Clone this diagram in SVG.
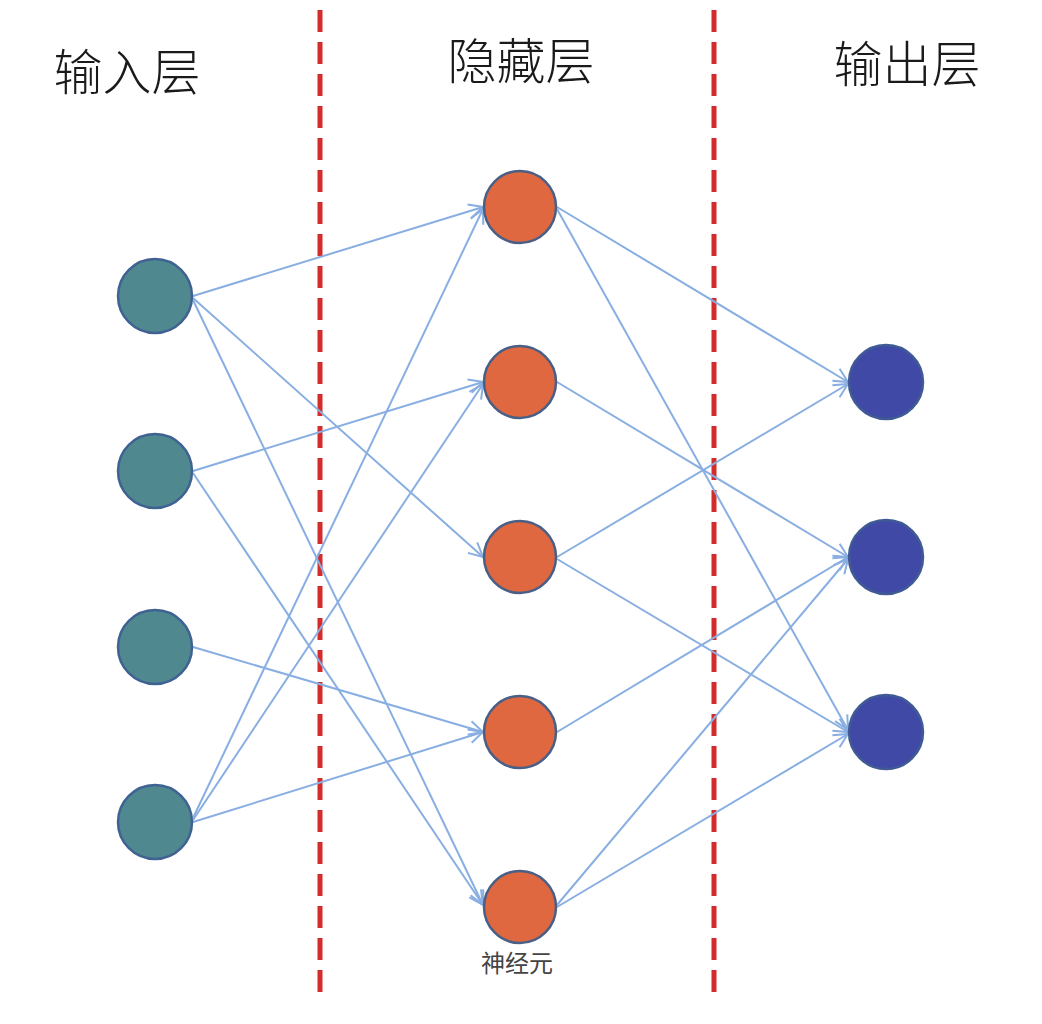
<svg xmlns="http://www.w3.org/2000/svg" width="1042" height="1024" viewBox="0 0 1042 1024">
<style>
.title{font-family:"Noto Sans CJK SC","Liberation Sans",sans-serif;font-size:49px;font-weight:300;fill:#1a1a1a;text-anchor:middle}
.lbl{font-family:"Noto Sans CJK SC","Liberation Sans",sans-serif;font-size:24px;fill:#444;text-anchor:middle}
.sep{stroke:#d42b2b;stroke-width:5;stroke-dasharray:22 10;fill:none}
.edge{stroke:#88aee2;stroke-width:2;fill:none;marker-end:url(#arr)}
.in{fill:#4f898f;stroke:#3f6292;stroke-width:2.5}
.hid{fill:#df6840;stroke:#4a5f86;stroke-width:2.5}
.out{fill:#4149a6;stroke:#3f5a94;stroke-width:2.5}
</style>
<defs>
<marker id="arr" viewBox="0 0 20 20" refX="18" refY="10" markerWidth="20" markerHeight="20" markerUnits="userSpaceOnUse" orient="auto">
<path d="M4,3 L18,10 L4,17" fill="none" stroke="#88aee2" stroke-width="2"/>
</marker>
</defs>
<rect width="1042" height="1024" fill="#fff"/>
<g id="titles">
<text class="title" x="127" y="90">输入层</text>
<text class="title" x="521" y="79">隐藏层</text>
<text class="title" x="907" y="82">输出层</text>
</g>
<g id="separators">
<line class="sep" x1="320" y1="10" x2="320" y2="1002"/>
<line class="sep" x1="714" y1="10" x2="714" y2="1002"/>
</g>
<g id="connectors">
<line class="edge" x1="193" y1="296" x2="483" y2="207"/>
<line class="edge" x1="193" y1="298" x2="483" y2="557"/>
<line class="edge" x1="193" y1="300" x2="483" y2="905"/>
<line class="edge" x1="193" y1="471" x2="483" y2="382"/>
<line class="edge" x1="193" y1="473" x2="483" y2="905"/>
<line class="edge" x1="193" y1="647" x2="483" y2="732"/>
<line class="edge" x1="193" y1="818" x2="483" y2="209"/>
<line class="edge" x1="193" y1="820" x2="483" y2="384"/>
<line class="edge" x1="193" y1="822" x2="483" y2="732"/>
<line class="edge" x1="557" y1="207" x2="848" y2="382"/>
<line class="edge" x1="557" y1="209" x2="848" y2="730"/>
<line class="edge" x1="557" y1="382" x2="848" y2="557"/>
<line class="edge" x1="557" y1="557" x2="848" y2="384"/>
<line class="edge" x1="557" y1="559" x2="848" y2="732"/>
<line class="edge" x1="557" y1="732" x2="848" y2="557"/>
<line class="edge" x1="557" y1="905" x2="848" y2="559"/>
<line class="edge" x1="557" y1="907" x2="848" y2="734"/>
</g>
<g id="in1"><circle class="in" cx="155" cy="296" r="37"/></g>
<g id="in2"><circle class="in" cx="155" cy="471" r="37"/></g>
<g id="in3"><circle class="in" cx="155" cy="647" r="37"/></g>
<g id="in4"><circle class="in" cx="155" cy="822" r="37"/></g>
<g id="h1"><circle class="hid" cx="520" cy="207" r="36"/></g>
<g id="h2"><circle class="hid" cx="520" cy="382" r="36"/></g>
<g id="h3"><circle class="hid" cx="520" cy="557" r="36"/></g>
<g id="h4"><circle class="hid" cx="520" cy="732" r="36"/></g>
<g id="h5"><circle class="hid" cx="520" cy="907" r="36"/><text class="lbl" x="517" y="972">神经元</text></g>
<g id="o1"><circle class="out" cx="886" cy="382" r="37"/></g>
<g id="o2"><circle class="out" cx="886" cy="557" r="37"/></g>
<g id="o3"><circle class="out" cx="886" cy="732" r="37"/></g>
</svg>
